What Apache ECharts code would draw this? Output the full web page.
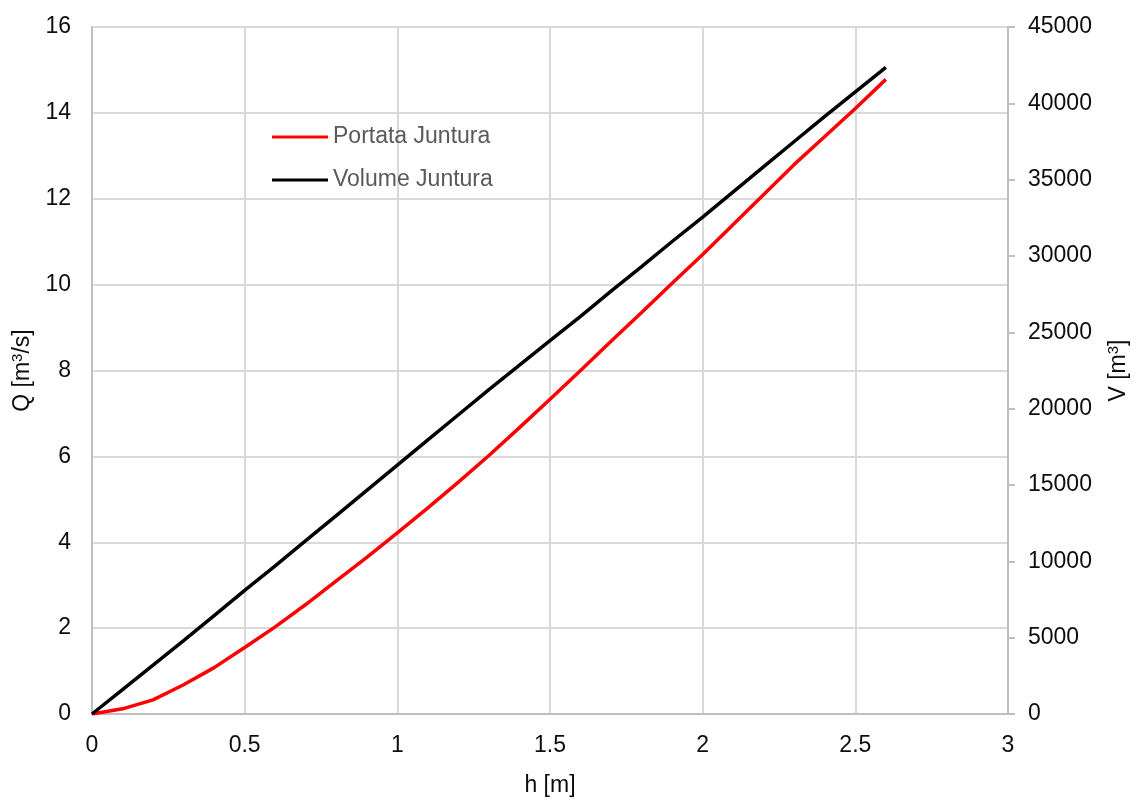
<!DOCTYPE html>
<html>
<head>
<meta charset="utf-8">
<script src="https://cdn.jsdelivr.net/npm/echarts@6/dist/echarts.min.js"></script>
<style>html,body{margin:0;padding:0;background:#fff;}#chart{width:1138px;height:802px;}</style>
</head>
<body>
<div id="chart"></div>
<script>
const hValues = [0,0.1,0.2,0.3,0.4,0.5,0.6,0.7,0.8,0.9,1.0,1.1,1.2,1.3,1.4,1.5,1.6,1.7,1.8,1.9,2.0,2.1,2.2,2.3,2.4,2.5,2.6];
const portata = [0,0.12,0.33,0.68,1.08,1.55,2.03,2.55,3.1,3.65,4.22,4.8,5.4,6.02,6.67,7.33,8.0,8.68,9.35,10.03,10.7,11.4,12.1,12.8,13.45,14.1,14.78];
const volume = [0,1600,3200,4800,6450,8100,9700,11350,13000,14650,16300,17950,19600,21250,22850,24450,26050,27700,29300,30950,32550,34200,35850,37500,39150,40750,42350];
const seriesNames = ['Portata Juntura','Volume Juntura'];

const font = "'Liberation Sans', Arial, sans-serif";
const chart = echarts.init(document.getElementById('chart'));
const supRich = {
  n: {fontSize: 23, fontFamily: font, color: '#0d0d0d'},
  sup: {fontSize: 15, fontFamily: font, color: '#0d0d0d', verticalAlign: 'top', padding: [0,0,10,0]}
};
chart.setOption({
  animation: false,
  backgroundColor: '#fff',
  grid: {left: 92, right: 123, top: 27, bottom: 85, containLabel: false},
  legend: {
    left: 272, top: 124, orient: 'vertical', itemGap: 17, padding: 0,
    itemWidth: 56, itemHeight: 3, icon: 'rect',
    textStyle: {fontSize: 23, fontFamily: font, color: '#595959', lineHeight: 26},
    data: seriesNames
  },
  xAxis: {
    type: 'value', min: 0, max: 3, interval: 0.5,
    name: 'h [m]', nameLocation: 'middle', nameGap: 60,
    nameTextStyle: {fontSize: 23, fontFamily: font, color: '#0d0d0d'},
    axisLine: {show: true, lineStyle: {color: '#bfbfbf', width: 2}},
    axisTick: {show: false},
    axisLabel: {fontSize: 23, fontFamily: font, color: '#0d0d0d', margin: 20},
    splitLine: {show: true, lineStyle: {color: '#d9d9d9', width: 2}}
  },
  yAxis: [{
    type: 'value', min: 0, max: 16, interval: 2, position: 'left',
    name: '{n|Q [m}{sup|3}{n|/s]}', nameLocation: 'middle', nameGap: 57, nameRotate: 90,
    nameTextStyle: {rich: supRich},
    axisLine: {show: true, lineStyle: {color: '#bfbfbf', width: 2}},
    axisTick: {show: false},
    axisLabel: {fontSize: 23, fontFamily: font, color: '#0d0d0d', margin: 21},
    splitLine: {show: true, lineStyle: {color: '#d9d9d9', width: 2}}
  }, {
    type: 'value', min: 0, max: 45000, interval: 5000, position: 'right',
    name: '{n|V [m}{sup|3}{n|]}', nameLocation: 'middle', nameGap: 98, nameRotate: 90,
    nameTextStyle: {rich: supRich},
    axisLine: {show: true, lineStyle: {color: '#bfbfbf', width: 2}},
    axisTick: {show: true, inside: false, length: 7, lineStyle: {color: '#bfbfbf', width: 2}},
    axisLabel: {fontSize: 23, fontFamily: font, color: '#0d0d0d', margin: 20, formatter: v => String(v)},
    splitLine: {show: false}
  }],
  series: [{
    name: seriesNames[0], type: 'line', yAxisIndex: 0, showSymbol: false, symbol: 'none',
    color: '#ff0000', lineStyle: {color: '#ff0000', width: 3.5},
    data: hValues.map((h, i) => [h, portata[i]])
  }, {
    name: seriesNames[1], type: 'line', yAxisIndex: 1, showSymbol: false, symbol: 'none',
    color: '#000000', lineStyle: {color: '#000000', width: 3.5},
    data: hValues.map((h, i) => [h, volume[i]])
  }]
});
</script>
</body>
</html>
